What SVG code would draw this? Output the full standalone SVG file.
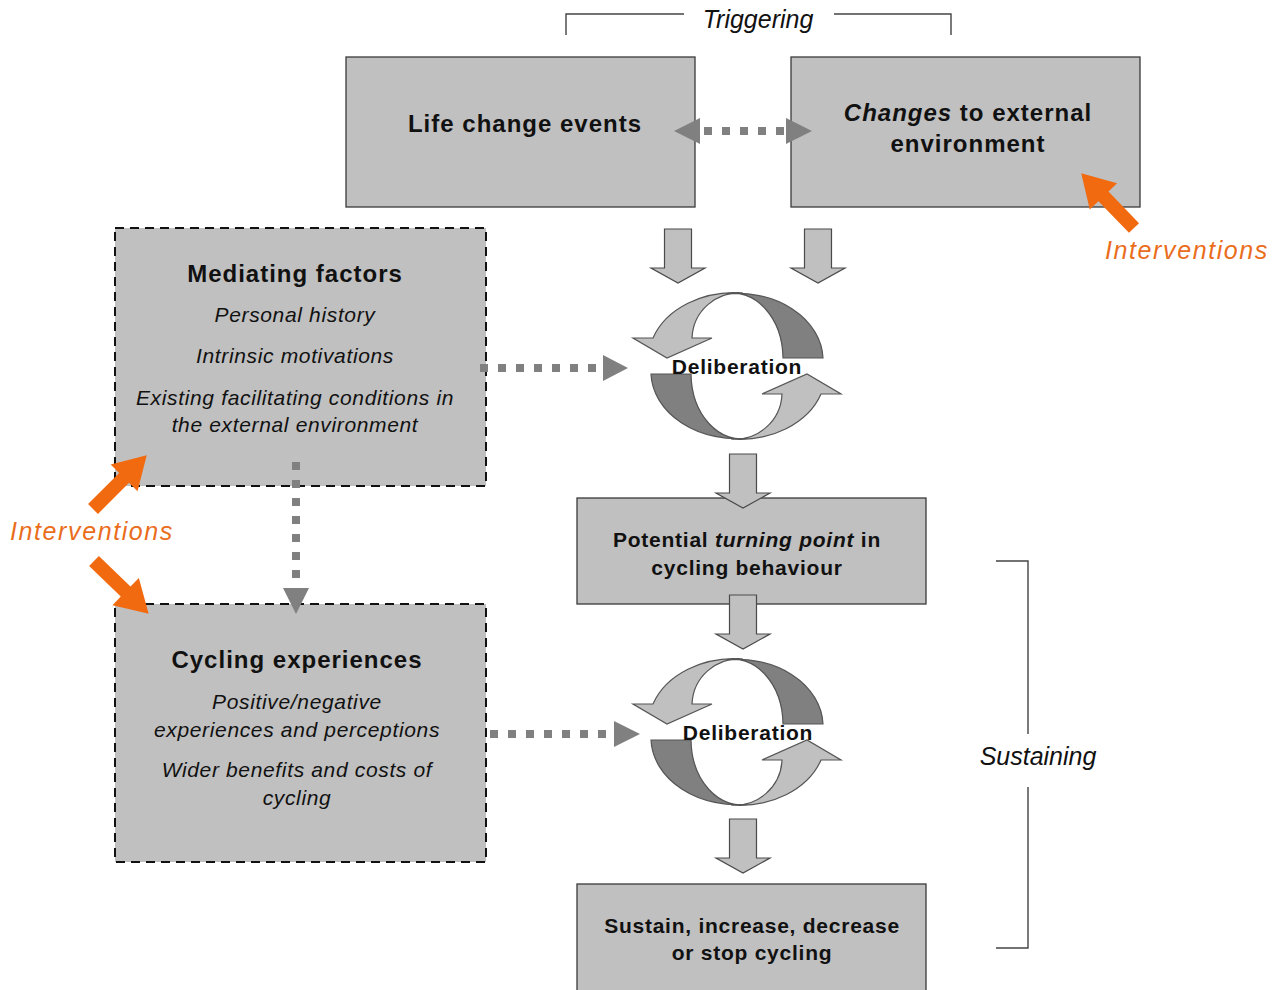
<svg xmlns="http://www.w3.org/2000/svg" width="1285" height="990" viewBox="0 0 1285 990">
<style>
text{font-family:"Liberation Sans",Arial,sans-serif;fill:#111;text-anchor:middle}
.box{fill:#c0c0c0;stroke:#3a3a3a;stroke-width:1.3}
.dbox{fill:#c0c0c0;stroke:#111;stroke-width:2;stroke-dasharray:9 6}
.t24{font-size:24px;font-weight:bold;letter-spacing:1px}
.b21{font-size:21px;font-weight:bold;letter-spacing:0.75px}
.i21{font-size:21px;font-style:italic;letter-spacing:0.65px}
.lab{font-size:25px;font-style:italic}
.int{font-size:25px;font-style:italic;fill:#ea6d1c;letter-spacing:1.6px}
.dot{fill:none;stroke:#808080;stroke-width:8;stroke-dasharray:8 10}
.head{fill:#808080}
.blk{fill:#c0c0c0;stroke:#4a4a4a;stroke-width:1.2}
.lt{fill:#c0c0c0;stroke:#555;stroke-width:1.2}
.dk{fill:#808080;stroke:#555;stroke-width:1.2}
.orange{fill:#f26a10}
.brk{fill:none;stroke:#444;stroke-width:1.4}
</style>
<defs>
<path id="blkarrow" d="M-13.5,0 L13.5,0 L13.5,39 L27,39 L0,54 L-27,39 L-13.5,39 Z"/>
<path id="oarrow" d="M0,-7 L44,-7 L44,-19 L76,0 L44,19 L44,7 L0,7 Z"/>
<g id="half">
<path class="dk" d="M-12,-72 A86 67 0 0 1 86,-8 L46,-8 A50 66 0 0 0 -12,-72 Z"/>
<path class="lt" d="M6,-73 A86 67 0 0 0 -84,-28 L-104,-28 L-70,-8 L-25,-28 L-45,-28 A47 47 0 0 1 6,-73 Z"/>
</g>
<g id="cycle">
<use href="#half"/>
<use href="#half" transform="rotate(180)"/>
</g>
</defs>

<g id="triggering">
<polyline class="brk" points="566,35 566,14 684,14"/>
<polyline class="brk" points="834,14 951,14 951,35"/>
<text class="lab" x="758" y="28">Triggering</text>
</g>

<g id="life-change">
<rect class="box" x="346" y="57" width="349" height="150"/>
<text class="t24" x="525" y="132">Life change events</text>
</g>

<g id="external-changes">
<rect class="box" x="791" y="57" width="349" height="150"/>
<text class="t24" x="968" y="121"><tspan font-style="italic">Changes</tspan> to external</text>
<text class="t24" x="968" y="152">environment</text>
</g>

<g id="mediating">
<rect class="dbox" x="115" y="228" width="371" height="258"/>
<text class="t24" x="295" y="282">Mediating factors</text>
<text class="i21" x="295" y="322">Personal history</text>
<text class="i21" x="295" y="363">Intrinsic motivations</text>
<text class="i21" x="295" y="405">Existing facilitating conditions in</text>
<text class="i21" x="295" y="432">the external environment</text>
</g>

<g id="cycling-experiences">
<rect class="dbox" x="115" y="604" width="371" height="258"/>
<text class="t24" x="297" y="668">Cycling experiences</text>
<text class="i21" x="297" y="709">Positive/negative</text>
<text class="i21" x="297" y="737">experiences and perceptions</text>
<text class="i21" x="297" y="777">Wider benefits and costs of</text>
<text class="i21" x="297" y="805">cycling</text>
</g>

<g id="deliberation-1">
<use href="#cycle" transform="translate(737,366)"/>
<text class="b21" x="737" y="374">Deliberation</text>
</g>

<g id="turning-point">
<rect class="box" x="577" y="498" width="349" height="106"/>
<text class="b21" x="747" y="547">Potential <tspan font-style="italic">turning point</tspan> in</text>
<text class="b21" x="747" y="575">cycling behaviour</text>
</g>

<g id="deliberation-2">
<use href="#cycle" transform="translate(737,732)"/>
<text class="b21" x="748" y="740">Deliberation</text>
</g>

<g id="outcome">
<rect class="box" x="577" y="884" width="349" height="120"/>
<text class="b21" x="752" y="933">Sustain, increase, decrease</text>
<text class="b21" x="752" y="960">or stop cycling</text>
</g>

<g id="sustaining">
<polyline class="brk" points="996,561 1028,561 1028,734"/>
<polyline class="brk" points="1028,787 1028,948 996,948"/>
<text class="lab" x="1038" y="765">Sustaining</text>
</g>

<g id="connectors">
<line class="dot" x1="704" y1="131" x2="786" y2="131"/>
<polygon class="head" points="674,131 700,118 700,144"/>
<polygon class="head" points="812,131 786,118 786,144"/>
<use class="blk" href="#blkarrow" transform="translate(678,229)"/>
<use class="blk" href="#blkarrow" transform="translate(818,229)"/>
<line class="dot" x1="480" y1="368" x2="602" y2="368"/>
<polygon class="head" points="628,368 603,355 603,381"/>
<use class="blk" href="#blkarrow" transform="translate(743,454)"/>
<use class="blk" href="#blkarrow" transform="translate(743,595)"/>
<line class="dot" x1="296" y1="462" x2="296" y2="586"/>
<polygon class="head" points="296,614 283,588 309,588"/>
<line class="dot" x1="490" y1="734" x2="612" y2="734"/>
<polygon class="head" points="640,734 614,721 614,747"/>
<use class="blk" href="#blkarrow" transform="translate(743,819)"/>
</g>

<g id="interventions">
<use class="orange" href="#oarrow" transform="translate(1134,228) rotate(-134)"/>
<text class="int" x="1187" y="259">Interventions</text>
<use class="orange" href="#oarrow" transform="translate(93,509) rotate(-45)"/>
<use class="orange" href="#oarrow" transform="translate(94,561) rotate(44)"/>
<text class="int" x="92" y="540">Interventions</text>
</g>
</svg>
